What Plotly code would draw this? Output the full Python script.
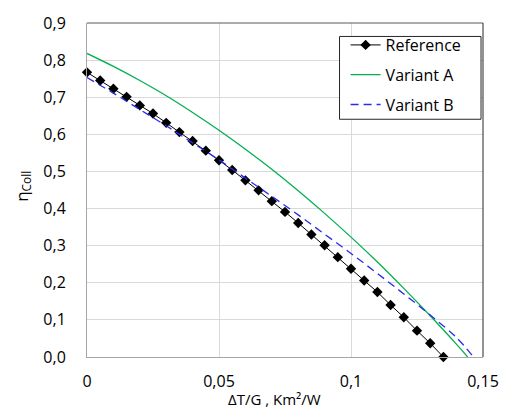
import plotly.graph_objects as go

# Reference series (markers)
ref_x = [0.000, 0.005, 0.010, 0.015, 0.020, 0.025, 0.030, 0.035, 0.040, 0.045,
         0.050, 0.055, 0.060, 0.065, 0.070, 0.075, 0.080, 0.085, 0.090, 0.095,
         0.100, 0.105, 0.110, 0.115, 0.120, 0.125, 0.130, 0.135]
ref_y = [0.767, 0.745, 0.723, 0.701, 0.678, 0.656, 0.631, 0.606, 0.582, 0.556,
         0.530, 0.504, 0.476, 0.449, 0.420, 0.391, 0.361, 0.330, 0.301, 0.269,
         0.238, 0.206, 0.175, 0.140, 0.107, 0.071, 0.037, 0.000]

# Variant A (green solid)
va_x = [0.000, 0.010, 0.020, 0.030, 0.040, 0.050, 0.060, 0.070, 0.080, 0.090,
        0.100, 0.110, 0.120, 0.130, 0.140, 0.1442]
va_y = [0.818, 0.783, 0.745, 0.704, 0.659, 0.611, 0.560, 0.506, 0.448, 0.387,
        0.323, 0.256, 0.185, 0.111, 0.034, 0.000]

# Variant B (blue dashed)
vb_x = [0.000, 0.010, 0.020, 0.030, 0.040, 0.050, 0.060, 0.070, 0.080, 0.090,
        0.100, 0.110, 0.120, 0.130, 0.140, 0.1464]
vb_y = [0.753, 0.711, 0.667, 0.623, 0.577, 0.531, 0.482, 0.433, 0.383, 0.331,
        0.279, 0.225, 0.170, 0.113, 0.052, 0.000]

x_tickvals = [0, 0.05, 0.1, 0.15]
x_ticktext = ["0", "0,05", "0,1", "0,15"]
y_tickvals = [0, 0.1, 0.2, 0.3, 0.4, 0.5, 0.6, 0.7, 0.8, 0.9]
y_ticktext = ["0,0", "0,1", "0,2", "0,3", "0,4", "0,5", "0,6", "0,7", "0,8", "0,9"]

FONT = "Open Sans"

fig = go.Figure()
fig.add_trace(go.Scatter(x=ref_x, y=ref_y, name="Reference", mode="lines+markers",
                         legendgroup="r",
                         line=dict(color="black", width=1),
                         marker=dict(symbol="diamond", size=8, color="black"),
                         cliponaxis=False))
fig.add_trace(go.Scatter(x=va_x, y=va_y, name="Variant A", mode="lines",
                         legendgroup="a",
                         line=dict(color="#00b050", width=1.3, shape="spline")))
fig.add_trace(go.Scatter(x=vb_x, y=vb_y, name="Variant B", mode="lines",
                         legendgroup="b",
                         line=dict(color="#2a2af0", width=1.3, dash="8px,5px", shape="spline")))

fig.update_layout(
    width=511, height=410,
    margin=dict(l=87, r=23, t=17, b=53),
    paper_bgcolor="white", plot_bgcolor="white",
    font=dict(family=FONT, size=16, color="black"),
    showlegend=True,
    legend=dict(x=0.653, y=0.985, xanchor="left", yanchor="top",
                bgcolor="rgba(0,0,0,0)", borderwidth=0,
                font=dict(family=FONT, size=16, color="black"),
                itemwidth=30, tracegroupgap=6),
    xaxis=dict(range=[0, 0.15], tickvals=x_tickvals, ticktext=x_ticktext,
               showgrid=True, gridcolor="#d9d9d9", gridwidth=1,
               showline=True, linecolor="#a6a6a6", linewidth=1,
               ticks="", zeroline=False, ticklabelstandoff=10),
    yaxis=dict(range=[0, 0.9], tickvals=y_tickvals, ticktext=y_ticktext,
               showgrid=True, gridcolor="#d9d9d9", gridwidth=1,
               showline=True, linecolor="#a6a6a6", linewidth=1,
               ticks="", zeroline=False, ticklabelstandoff=17),
)

# legend frame
fig.add_shape(type="rect", xref="paper", yref="paper",
              x0=0.6377, x1=0.995, y0=0.7118, y1=0.9597, layer="above",
              fillcolor="white", line=dict(color="#262626", width=1))

# axis titles
fig.add_annotation(text="ΔT/G , Km²/W", xref="paper", yref="paper",
                   x=0.474, y=-0.1265, xanchor="center", yanchor="middle",
                   showarrow=False, font=dict(family=FONT, size=15, color="black"))
fig.add_annotation(text="η<sub>Coll</sub>", xref="paper", yref="paper",
                   x=-0.162, y=0.512, xanchor="center", yanchor="middle",
                   textangle=-90, showarrow=False,
                   font=dict(family=FONT, size=17, color="black"))

fig.add_shape(type="line", xref="paper", yref="paper", x0=0, x1=1, y0=1, y1=1,
              line=dict(color="#595959", width=1))
fig.add_shape(type="line", xref="paper", yref="paper", x0=1, x1=1, y0=0, y1=1,
              line=dict(color="#262626", width=1))

fig.write_html("out.html", config={"displayModeBar": False},
               post_script="document.body.style.margin='0px';")
